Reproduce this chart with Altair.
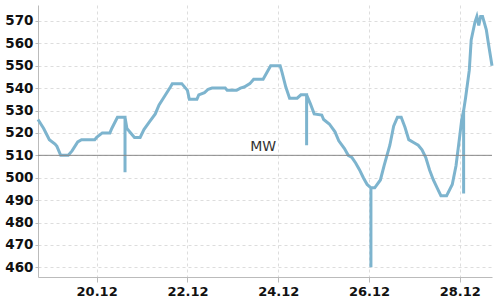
import altair as alt
import pandas as pd

# hours since 18.12 00:00 and values
hours = [17, 20, 23, 26, 27, 29, 33, 35, 38, 40, 47, 48, 51, 55, 56, 59,
         63, 63, 63, 64, 66, 68, 71, 73, 76, 79, 81, 84, 87, 88, 93, 96,
         97, 101, 102, 105, 107, 109, 116, 117, 122, 124, 126, 129, 131, 136,
         138, 140, 145, 146, 148, 150, 154, 156, 159, 159, 159, 161, 163, 167,
         168, 171, 174, 176, 179, 181, 183, 185, 187, 189, 191, 193, 193, 193,
         195, 198, 200, 203, 205, 207, 209, 211, 213, 216, 218, 220, 222, 224,
         226, 228, 230, 233, 236, 238, 240, 241, 242, 242, 242, 243, 245, 246,
         248, 249, 250, 251, 252, 254, 255, 257]
values = [526, 522, 517, 515, 514, 510, 510, 512, 516, 517, 517, 518, 520, 520, 522, 527,
          527, 502.5, 527, 522, 520, 518, 518, 521.5, 525, 528.5, 532.5, 536.5, 540.5, 542, 542, 539,
          535, 535, 537, 538, 539.5, 540, 540, 539, 539, 540, 540.5, 542, 544, 544,
          547, 550, 550, 547, 540.5, 535.5, 535.5, 537, 537, 514.5, 537, 533, 528.5, 528,
          526, 524, 520.5, 516.5, 513, 510, 509, 506.5, 503.5, 500, 497, 495.5, 460, 495.5,
          495.5, 499, 505.5, 514.5, 523, 527, 527, 522.5, 517, 515.5, 514.5, 512.5, 509, 503.5,
          499, 495.5, 492, 492, 497, 505.5, 519, 526, 530, 493, 530, 535.5, 548, 561.5,
          569.5, 572, 568, 572, 572, 566, 560.5, 550]

mean_value = 510
mean_label = "MW"
x_ticks = ["2023-12-20", "2023-12-22", "2023-12-24", "2023-12-26", "2023-12-28"]
y_ticks = list(range(460, 571, 10))

base_time = pd.Timestamp("2023-12-18T00:00:00")
df = pd.DataFrame({
    "t": [(base_time + pd.Timedelta(hours=h)).strftime("%Y-%m-%dT%H:%M:%S") for h in hours],
    "v": values,
    "order": list(range(len(hours))),
})

x_scale = alt.Scale(domain=["2023-12-18T17:00:00", "2023-12-28T17:00:00"])
y_scale = alt.Scale(domain=[455.7, 577.1], nice=False, zero=False)

x_axis = alt.Axis(
    title=None, format="%d.%m",
    values=[alt.DateTime(year=int(s[:4]), month=int(s[5:7]), date=int(s[8:10])) for s in x_ticks],
    grid=True, gridDash=[3, 3], gridColor="#dddddd",
    domainColor="#bbbbbb", tickColor="#bbbbbb", tickSize=5,
    labelFont="DejaVu Sans", labelFontSize=13, labelFontWeight="bold",
    labelColor="#111111", labelPadding=3, labelOverlap=False,
)
y_axis = alt.Axis(
    title=None, values=y_ticks,
    grid=True, gridDash=[3, 3], gridColor="#dddddd",
    domainColor="#bbbbbb", tickColor="#bbbbbb", tickSize=3,
    labelFont="DejaVu Sans", labelFontSize=13.5, labelFontWeight="bold",
    labelColor="#111111", labelPadding=2, labelOverlap=False,
)

line = alt.Chart(df).mark_line(color="#7db4ce", strokeWidth=3).encode(
    x=alt.X("t:T", scale=x_scale, axis=x_axis),
    y=alt.Y("v:Q", scale=y_scale, axis=y_axis),
    order="order:Q",
)

rule_df = pd.DataFrame({"v": [mean_value]})
rule = alt.Chart(rule_df).mark_rule(color="#888888", strokeWidth=1).encode(
    y=alt.Y("v:Q", scale=y_scale, axis=y_axis)
)

label_df = pd.DataFrame({"t": ["2023-12-23T16:00:00"], "v": [mean_value], "txt": [mean_label]})
label = alt.Chart(label_df).mark_text(
    font="DejaVu Sans", fontSize=14, color="#333333", baseline="bottom", dy=-1
).encode(
    x=alt.X("t:T", scale=x_scale, axis=x_axis),
    y=alt.Y("v:Q", scale=y_scale, axis=y_axis),
    text="txt:N",
)

chart = alt.layer(line, rule, label).properties(
    width=454, height=272,
    autosize=alt.AutoSizeParams(type="none"),
    padding={"left": 38, "top": 5, "right": 8, "bottom": 23},
).configure_view(stroke=None)

chart.save("out.html", embed_options={"renderer": "svg", "actions": False})
